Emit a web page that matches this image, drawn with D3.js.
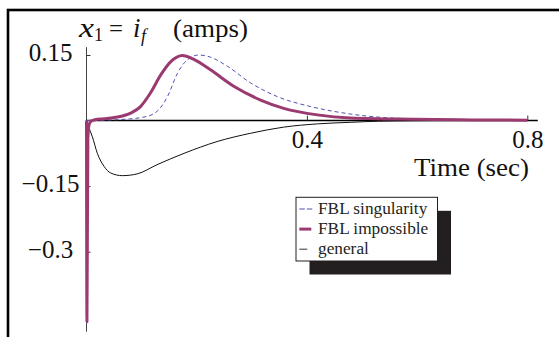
<!DOCTYPE html>
<html>
<head>
<meta charset="utf-8">
<script src="https://cdn.jsdelivr.net/npm/d3@7"></script>
<style>
  body { margin: 0; background: #fff; }
  text { font-family: "Liberation Serif", "Times New Roman", serif; }
</style>
</head>
<body>
<div id="chart"></div>
<script>
// series: time (sec) and x1 = i_f (amps)
const tGeneral = [0, 0.004, 0.0106, 0.0197, 0.032, 0.044, 0.065, 0.092, 0.128, 0.177, 0.237, 0.298, 0.358, 0.419, 0.479, 0.53, 0.6, 0.7, 0.8]
const vGeneral = [0, -0.015, -0.037, -0.075, -0.105, -0.120, -0.126, -0.122, -0.101, -0.075, -0.048, -0.029, -0.015, -0.0076, -0.004, -0.0015, -0.0005, 0, 0]

const tSingular = [0, 0.03, 0.056, 0.104, 0.128, 0.147, 0.165, 0.183, 0.204, 0.225, 0.256, 0.298, 0.346, 0.407, 0.479, 0.551, 0.594, 0.7, 0.8]
const vSingular = [0, 0.001, 0.002, 0.008, 0.021, 0.055, 0.108, 0.139, 0.150, 0.145, 0.124, 0.086, 0.055, 0.032, 0.015, 0.006, 0.004, 0.0015, 0.0005]

const tImpossible = [0, 0.0008, 0.0025, 0.005, 0.009, 0.015, 0.032, 0.056, 0.080, 0.098, 0.116, 0.135, 0.153, 0.174, 0.195, 0.225, 0.268, 0.316, 0.358, 0.419, 0.479, 0.594, 0.7, 0.8]
const vImpossible = [0, -0.46, -0.04, -0.008, -0.001, 0.002, 0.004, 0.008, 0.017, 0.032, 0.063, 0.105, 0.135, 0.149, 0.140, 0.116, 0.078, 0.047, 0.028, 0.013, 0.006, 0.003, 0.0015, 0.001]

const xTicks = [0.4, 0.8]
const xTickLabels = ["0.4", "0.8"]
const yTicks = [0.15, -0.15, -0.3]
const yTickLabels = ["0.15", "\u22120.15", "\u22120.3"]

const legendNames = ["FBL singularity", "FBL impossible", "general"]

const W = 559, H = 337
const svg = d3.select("#chart").append("svg")
    .attr("width", W)
    .attr("height", H)

// outer frame, runs off the right and bottom of the picture
svg.append("rect")
    .attr("x", 8).attr("y", 10)
    .attr("width", 620).attr("height", 420)
    .attr("fill", "none")
    .attr("stroke", "#000")
    .attr("stroke-width", 2.6)

const x = d3.scaleLinear().domain([0, 0.8]).range([86.5, 527.3])
const y = d3.scaleLinear().domain([-0.3, 0.15]).range([251.7, 55])

// y axis line
svg.append("line")
    .attr("x1", x(0)).attr("x2", x(0))
    .attr("y1", y(0.168)).attr("y2", y(-0.483))
    .attr("stroke", "#444").attr("stroke-width", 1)

// y ticks + labels
const yAxis = svg.append("g")
    .attr("transform", "translate(" + x(0) + ",0)")
    .call(d3.axisLeft(y).tickValues(yTicks).tickSizeInner(-4).tickSizeOuter(0)
        .tickFormat((d, i) => yTickLabels[i]))
yAxis.select(".domain").remove()
yAxis.selectAll(".tick line").attr("stroke", "#333")
yAxis.selectAll(".tick text")
    .attr("x", -36)
    .attr("dy", "0.22em")
    .attr("text-anchor", "middle")
    .attr("font-size", 25)
    .attr("font-family", "Liberation Serif")
    .attr("fill", "#111")

// x axis line
svg.append("line")
    .attr("x1", x(0)).attr("x2", x(0.819))
    .attr("y1", y(0)).attr("y2", y(0))
    .attr("stroke", "#000").attr("stroke-width", 1.4)

const xAxis = svg.append("g")
    .attr("transform", "translate(0," + y(0) + ")")
    .call(d3.axisBottom(x).tickValues(xTicks).tickSizeInner(-5).tickSizeOuter(0).tickPadding(9.5)
        .tickFormat((d, i) => xTickLabels[i]))
xAxis.select(".domain").remove()
xAxis.selectAll(".tick line").attr("stroke", "#333")
xAxis.selectAll(".tick text")
    .attr("font-size", 25)
    .attr("font-family", "Liberation Serif")
    .attr("fill", "#111")

// curves
const makeLine = d3.line()
    .x(d => x(d[0]))
    .y(d => y(d[1]))
    .curve(d3.curveMonotoneX)

const zip = (a, b) => a.map((t, i) => [t, b[i]])

svg.append("path")
    .attr("fill", "none")
    .attr("stroke", "#111")
    .attr("stroke-width", 1)
    .attr("d", makeLine(zip(tGeneral, vGeneral)))

svg.append("path")
    .attr("fill", "none")
    .attr("stroke", "#5050b0")
    .attr("stroke-width", 1)
    .attr("stroke-dasharray", "4,3")
    .attr("d", makeLine(zip(tSingular, vSingular)))

svg.append("path")
    .attr("fill", "none")
    .attr("stroke", "#9b3a70")
    .attr("stroke-width", 3)
    .attr("stroke-linejoin", "round")
    .attr("d", makeLine(zip(tImpossible, vImpossible)))

// y axis title, math pieces set one by one
const titleParts = [
    { s: "x", x: 79, dy: 0, size: 28, italic: true, len: 15 },
    { s: "1", x: 94, dy: 4, size: 18, italic: false },
    { s: "=", x: 109, dy: 0, size: 25, italic: false, len: 14 },
    { s: "i", x: 133, dy: 0, size: 27, italic: true },
    { s: "f", x: 141, dy: 5, size: 18, italic: true },
    { s: "(amps)", x: 173, dy: 0, size: 26, italic: false, len: 75 }
]
titleParts.forEach(p => {
    const t = svg.append("text")
        .attr("x", p.x).attr("y", 37 + p.dy)
        .attr("font-size", p.size)
        .attr("font-style", p.italic ? "italic" : "normal")
        .attr("fill", "#111")
        .text(p.s)
    if (p.len) t.attr("textLength", p.len).attr("lengthAdjust", "spacingAndGlyphs")
})

svg.append("text")
    .attr("x", 529).attr("y", 176)
    .attr("text-anchor", "end")
    .attr("font-size", 25)
    .attr("textLength", 115)
    .attr("lengthAdjust", "spacingAndGlyphs")
    .attr("fill", "#111")
    .text("Time (sec)")

// legend with drop shadow
const lg = svg.append("g").attr("transform", "translate(296,197.3)")
lg.append("rect")
    .attr("x", 13.5).attr("y", 13.5)
    .attr("width", 141.5).attr("height", 63.7)
    .attr("fill", "#231f20")
lg.append("rect")
    .attr("x", 0).attr("y", 0)
    .attr("width", 141.5).attr("height", 63.7)
    .attr("fill", "#fff")
    .attr("stroke", "#231f20")
    .attr("stroke-width", 1)

const legendStyles = [
    { stroke: "#5050b0", width: 1, dash: "5.5,2", len: 13 },
    { stroke: "#9b3a70", width: 3, dash: null, len: 12 },
    { stroke: "#333", width: 1, dash: null, len: 8 }
]
legendNames.forEach((name, i) => {
    const s = legendStyles[i]
    const rowY = 11.7 + i * 20.1
    lg.append("line")
        .attr("x1", 3.3).attr("x2", 3.3 + s.len)
        .attr("y1", rowY).attr("y2", rowY)
        .attr("stroke", s.stroke)
        .attr("stroke-width", s.width)
        .attr("stroke-dasharray", s.dash)
    lg.append("text")
        .attr("x", 22).attr("y", rowY + 5.3)
        .attr("font-size", 17.3)
        .attr("fill", "#231f20")
        .text(name)
})
</script>
</body>
</html>
